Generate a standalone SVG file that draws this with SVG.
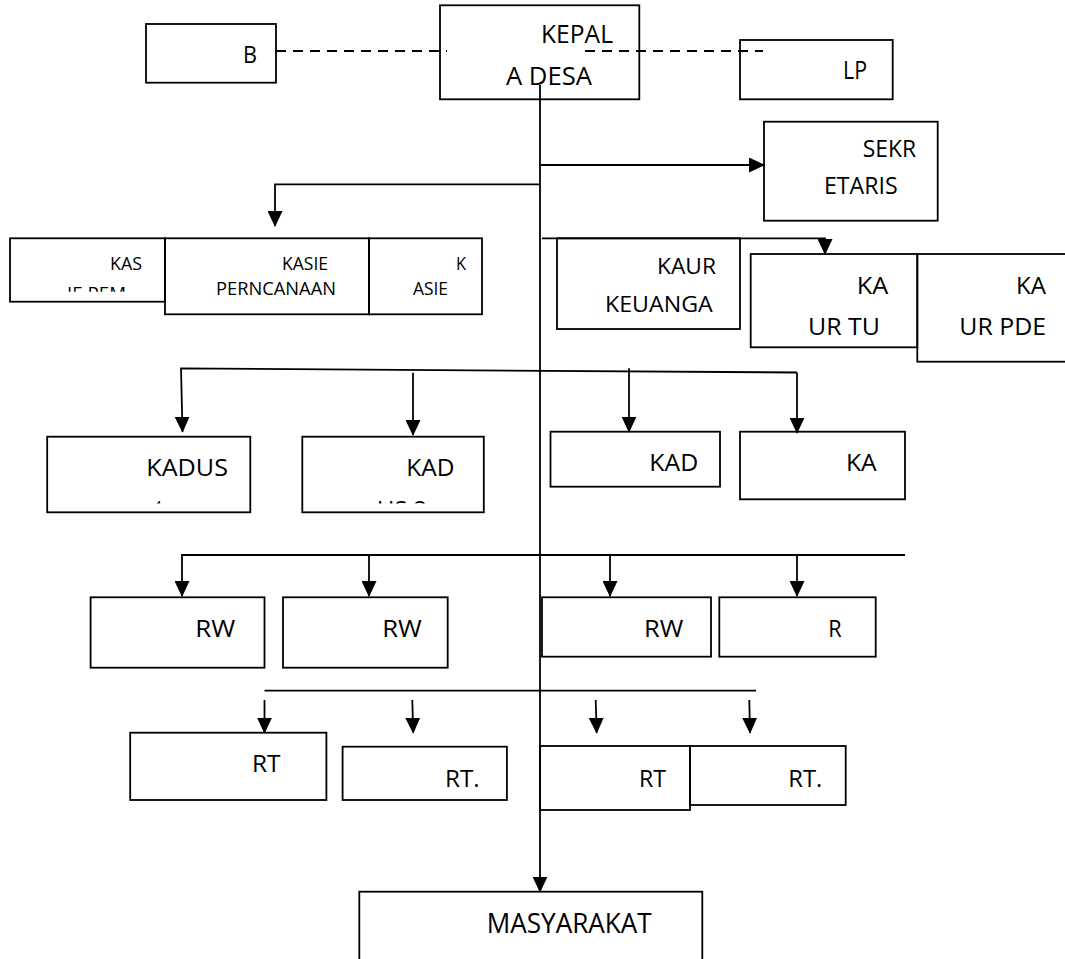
<svg xmlns="http://www.w3.org/2000/svg" width="1065" height="959" viewBox="0 0 1065 959">
<style>
.box{fill:none;stroke:#000;stroke-width:1.8}
.ln{fill:none;stroke:#000;stroke-width:1.8}
.dash{fill:none;stroke:#000;stroke-width:2;stroke-dasharray:10 7}
.t{font-family:"Open Sans","Liberation Sans",Arial,sans-serif;fill:#000;font-size:24.5px}
.s{font-size:18.5px}
</style>
<defs>
<marker id="ah" markerUnits="userSpaceOnUse" markerWidth="16" markerHeight="15" refX="15" refY="7.5" orient="auto">
<path d="M0,0 L16,7.5 L0,15 z" fill="#000"/>
</marker>
<clipPath id="c1"><rect x="10" y="238" width="155" height="53.7"/></clipPath>
<clipPath id="c2"><rect x="47" y="436" width="204" height="67.5"/></clipPath>
<clipPath id="c3"><rect x="302" y="436" width="182" height="67.5"/></clipPath>
</defs>
<rect width="1065" height="959" fill="#fff"/>

<g id="n-b"><rect class="box" x="146" y="24" width="130" height="58.7"/><text class="t" x="243" y="62.7" textLength="14" lengthAdjust="spacingAndGlyphs">B</text></g>
<g id="n-kepala"><rect class="box" x="440" y="5.3" width="199.3" height="94"/><text class="t" x="541" y="43.3" textLength="72" lengthAdjust="spacingAndGlyphs" style="font-size:25px">KEPAL</text><text class="t" x="506" y="85.3" textLength="86" lengthAdjust="spacingAndGlyphs" style="font-size:25px">A DESA</text></g>
<g id="n-lp"><rect class="box" x="740" y="40" width="152.7" height="59.3"/><text class="t" x="843" y="79.3" textLength="24" lengthAdjust="spacingAndGlyphs" style="font-size:25px">LP</text></g>
<g id="n-sekr"><rect class="box" x="764" y="121.7" width="173.7" height="99"/><text class="t" x="862.7" y="157.3" textLength="53.3" lengthAdjust="spacingAndGlyphs" style="font-size:23px">SEKR</text><text class="t" x="824" y="194.3" textLength="73.7" lengthAdjust="spacingAndGlyphs" style="font-size:23px">ETARIS</text></g>

<g id="n-kasie-pem"><rect class="box" x="10" y="238.3" width="155" height="63.4"/><text class="t s" x="110" y="270" textLength="32" lengthAdjust="spacingAndGlyphs">KAS</text><text class="t s" x="67" y="300" textLength="59" lengthAdjust="spacingAndGlyphs" clip-path="url(#c1)">IE PEM</text></g>
<g id="n-kasie-pern"><rect class="box" x="165" y="238.3" width="204" height="76"/><text class="t s" x="282" y="270" textLength="46" lengthAdjust="spacingAndGlyphs">KASIE</text><text class="t s" x="216" y="295" textLength="120" lengthAdjust="spacingAndGlyphs">PERNCANAAN</text></g>
<g id="n-kasie-3"><rect class="box" x="369" y="238.3" width="113" height="76"/><text class="t s" x="456" y="270" textLength="10" lengthAdjust="spacingAndGlyphs">K</text><text class="t s" x="413" y="295" textLength="35" lengthAdjust="spacingAndGlyphs">ASIE</text></g>

<g id="n-kaur-keu"><rect class="box" x="557" y="238.3" width="183" height="90.7"/><text class="t" x="657" y="274" textLength="59" lengthAdjust="spacingAndGlyphs" style="font-size:22.5px">KAUR</text><text class="t" x="605" y="311.7" textLength="107.7" lengthAdjust="spacingAndGlyphs" style="font-size:22.5px">KEUANGA</text></g>
<g id="n-kaur-tu"><rect class="box" x="750.7" y="254" width="166.6" height="93.3"/><text class="t" x="856.7" y="294" textLength="31.6" lengthAdjust="spacingAndGlyphs">KA</text><text class="t" x="808" y="335" textLength="72" lengthAdjust="spacingAndGlyphs">UR TU</text></g>
<g id="n-kaur-pde"><rect class="box" x="917.3" y="254" width="160" height="107.7"/><text class="t" x="1016" y="294" textLength="30" lengthAdjust="spacingAndGlyphs">KA</text><text class="t" x="959.3" y="335" textLength="86.7" lengthAdjust="spacingAndGlyphs">UR PDE</text></g>

<g id="n-kadus1"><rect class="box" x="47.2" y="436.7" width="203.1" height="75.6"/><text class="t" x="146.3" y="476" textLength="81.7" lengthAdjust="spacingAndGlyphs">KADUS</text><text class="t" x="155" y="518" textLength="8" lengthAdjust="spacingAndGlyphs" clip-path="url(#c2)">1</text></g>
<g id="n-kadus2"><rect class="box" x="302.3" y="436.7" width="181.5" height="75.6"/><text class="t" x="406.3" y="476" textLength="48.2" lengthAdjust="spacingAndGlyphs">KAD</text><text class="t" x="377" y="518" textLength="50" lengthAdjust="spacingAndGlyphs" clip-path="url(#c3)">US 2</text></g>
<g id="n-kadus3"><rect class="box" x="550.5" y="431.7" width="169.5" height="55"/><text class="t" x="649.3" y="470.7" textLength="49" lengthAdjust="spacingAndGlyphs">KAD</text></g>
<g id="n-kadus4"><rect class="box" x="740" y="431.7" width="165" height="67.6"/><text class="t" x="846" y="470.7" textLength="30.7" lengthAdjust="spacingAndGlyphs">KA</text></g>

<g id="n-rw1"><rect class="box" x="90.6" y="597.3" width="173.9" height="70.4"/><text class="t" x="195.2" y="636.7" textLength="40" lengthAdjust="spacingAndGlyphs">RW</text></g>
<g id="n-rw2"><rect class="box" x="283" y="597.3" width="164.7" height="70.4"/><text class="t" x="382.2" y="636.7" textLength="39.6" lengthAdjust="spacingAndGlyphs">RW</text></g>
<g id="n-rw3"><rect class="box" x="542" y="597.3" width="169" height="59.4"/><text class="t" x="644" y="636.7" textLength="39.3" lengthAdjust="spacingAndGlyphs">RW</text></g>
<g id="n-rw4"><rect class="box" x="719.3" y="597.3" width="156.4" height="59.4"/><text class="t" x="828.3" y="636.7" textLength="13.4" lengthAdjust="spacingAndGlyphs">R</text></g>

<g id="n-rt1"><rect class="box" x="130.2" y="732.7" width="196.2" height="67.3"/><text class="t" x="252" y="772.3" textLength="28.6" lengthAdjust="spacingAndGlyphs">RT</text></g>
<g id="n-rt2"><rect class="box" x="342.6" y="746.7" width="164.3" height="53.3"/><text class="t" x="445" y="786.5" textLength="34.7" lengthAdjust="spacingAndGlyphs">RT.</text></g>
<g id="n-rt3"><rect class="box" x="540" y="746" width="150" height="64"/><text class="t" x="639" y="786.5" textLength="27" lengthAdjust="spacingAndGlyphs">RT</text></g>
<g id="n-rt4"><rect class="box" x="690" y="746" width="155.7" height="59"/><text class="t" x="788.3" y="786.5" textLength="34" lengthAdjust="spacingAndGlyphs">RT.</text></g>

<g id="n-masyarakat"><rect class="box" x="359.3" y="891.7" width="343" height="75"/><text class="t" x="486.7" y="932.7" textLength="165" lengthAdjust="spacingAndGlyphs" style="font-size:27px">MASYARAKAT</text></g>

<g id="connectors">
<line class="dash" x1="276" y1="51" x2="447" y2="51"/>
<line class="dash" x1="585" y1="51" x2="763" y2="51"/>
<line class="ln" x1="540" y1="85" x2="540" y2="891.7" marker-end="url(#ah)"/>
<line class="ln" x1="541" y1="165" x2="764" y2="165" marker-end="url(#ah)"/>
<polyline class="ln" points="540,184.3 275,184.3 275,226" marker-end="url(#ah)"/>
<polyline class="ln" points="542,238.3 825,238.3 825,254" marker-end="url(#ah)"/>
<polyline class="ln" points="797,372.5 181,368.3 182.5,431.7" marker-end="url(#ah)"/>
<line class="ln" x1="413" y1="372.7" x2="413" y2="435" marker-end="url(#ah)"/>
<line class="ln" x1="629" y1="368.3" x2="629" y2="431.7" marker-end="url(#ah)"/>
<line class="ln" x1="797" y1="372.5" x2="797" y2="432.7" marker-end="url(#ah)"/>
<line class="ln" x1="181" y1="555" x2="905" y2="555"/>
<line class="ln" x1="182" y1="555" x2="182" y2="596" marker-end="url(#ah)"/>
<line class="ln" x1="369" y1="555" x2="369" y2="596" marker-end="url(#ah)"/>
<line class="ln" x1="610" y1="555" x2="610" y2="596" marker-end="url(#ah)"/>
<line class="ln" x1="797" y1="555" x2="797" y2="596" marker-end="url(#ah)"/>
<line class="ln" x1="264.5" y1="690.7" x2="756" y2="690.7"/>
<line class="ln" x1="264.5" y1="700" x2="264.5" y2="732.7" marker-end="url(#ah)"/>
<line class="ln" x1="412.3" y1="700" x2="413.2" y2="732.7" marker-end="url(#ah)"/>
<line class="ln" x1="595.7" y1="700" x2="596.7" y2="732.7" marker-end="url(#ah)"/>
<line class="ln" x1="749.3" y1="700" x2="750" y2="732.7" marker-end="url(#ah)"/>
</g>
</svg>
